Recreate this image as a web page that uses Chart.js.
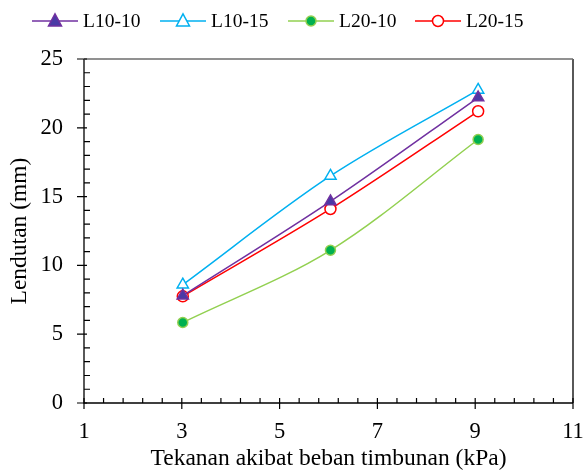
<!DOCTYPE html>
<html><head><meta charset="utf-8">
<script src="https://cdn.jsdelivr.net/npm/chart.js@4/dist/chart.umd.min.js"></script>
<style>html,body{margin:0;padding:0;background:#fff}#wrap{width:587px;height:473px}</style>
</head><body><div id="wrap"><canvas id="c" width="587" height="473"></canvas></div>
<script>
const xValues = [3.02, 6.04, 9.06];
const seriesNames = ['L10-10', 'L10-15', 'L20-10', 'L20-15'];
const L10_10 = [7.8, 14.65, 22.2];
const L10_15 = [8.6, 16.5, 22.75];
const L20_10 = [5.85, 11.1, 19.15];
const L20_15 = [7.75, 14.1, 21.2];
const xTicks = [1, 3, 5, 7, 9, 11];
const yTicks = [0, 5, 10, 15, 20, 25];
const xTitle = 'Tekanan akibat beban timbunan (kPa)';
const yTitle = 'Lendutan (mm)';

const FONT = '"Liberation Serif", "Times New Roman", serif';
const pts = arr => arr.map((v, i) => ({x: xValues[i], y: v}));

const styles = [
  {line: '#7030A0', fill: '#4a3aa6', border: '#7030A0', shape: 'triangle', r: 6.5},
  {line: '#00B0F0', fill: '#ffffff', border: '#00B0F0', shape: 'triangle', r: 6.5},
  {line: '#92D050', fill: '#00B050', border: '#92D050', shape: 'circle', r: 5},
  {line: '#FF0000', fill: '#ffffff', border: '#FF0000', shape: 'circle', r: 5.5}
];
const allData = [L10_10, L10_15, L20_10, L20_15];

const datasets = allData.map((d, i) => ({
  label: seriesNames[i],
  data: pts(d),
  borderColor: styles[i].line,
  borderWidth: 1.5,
  backgroundColor: styles[i].fill,
  pointStyle: styles[i].shape,
  pointRadius: styles[i].r,
  pointBackgroundColor: styles[i].fill,
  pointBorderColor: styles[i].border,
  pointBorderWidth: 1.5,
  tension: 0.33,
  fill: false
}));

const frame = {
  id: 'frame',
  afterDraw(chart) {
    const ctx = chart.ctx, a = chart.chartArea;
    const xs = chart.scales.x, ys = chart.scales.y;
    ctx.save();
    ctx.strokeStyle = '#000'; ctx.lineWidth = 1.3;
    ctx.beginPath();
    ctx.moveTo(a.left, a.top); ctx.lineTo(a.left, a.bottom); ctx.lineTo(a.right, a.bottom);
    ctx.moveTo(a.right, a.top); ctx.lineTo(a.right, a.bottom);
    ctx.stroke();
    ctx.strokeStyle = '#6d6d6d'; ctx.lineWidth = 1.6;
    ctx.beginPath(); ctx.moveTo(a.left, a.top); ctx.lineTo(a.right, a.top); ctx.stroke();
    ctx.strokeStyle = '#000'; ctx.lineWidth = 1.2;
    ctx.beginPath();
    xTicks.forEach(v => { const p = xs.getPixelForValue(v); ctx.moveTo(p, a.bottom - 5); ctx.lineTo(p, a.bottom + 6); });
    for (let k = 0; k <= 25; k++) {
      const v = 1 + k * 0.4;
      if (Math.abs((v - 1) / 2 - Math.round((v - 1) / 2)) < 1e-6) continue;
      const p = xs.getPixelForValue(v); ctx.moveTo(p, a.bottom); ctx.lineTo(p, a.bottom - 5);
    }
    yTicks.forEach(v => { const p = ys.getPixelForValue(v); ctx.moveTo(a.left - 7, p); ctx.lineTo(a.left + 3, p); });
    for (let v = 1; v < 25; v++) {
      if (v % 5 === 0) continue;
      const p = ys.getPixelForValue(v); ctx.moveTo(a.left, p); ctx.lineTo(a.left + 6, p);
    }
    ctx.stroke();
    ctx.restore();
  }
};

function drawMarker(ctx, st, x, y) {
  ctx.fillStyle = st.fill; ctx.strokeStyle = st.border; ctx.lineWidth = 1.5;
  ctx.beginPath();
  if (st.shape === 'circle') {
    ctx.arc(x, y, st.r, 0, Math.PI * 2);
  } else {
    const r = st.r;
    ctx.moveTo(x, y - r * 1.1);
    ctx.lineTo(x + r, y + r * 0.75);
    ctx.lineTo(x - r, y + r * 0.75);
    ctx.closePath();
  }
  ctx.fill(); ctx.stroke();
}

const legendPlugin = {
  id: 'customLegend',
  afterDraw(chart) {
    const ctx = chart.ctx;
    const starts = [32, 160, 288, 415];
    const y = 21;
    ctx.save();
    seriesNames.forEach((n, i) => {
      const st = styles[i], x0 = starts[i];
      ctx.strokeStyle = st.line; ctx.lineWidth = 1.5;
      ctx.beginPath(); ctx.moveTo(x0, y); ctx.lineTo(x0 + 46, y); ctx.stroke();
      drawMarker(ctx, st, x0 + 23, y);
      ctx.fillStyle = '#000'; ctx.font = '19.5px ' + FONT;
      ctx.textBaseline = 'middle'; ctx.textAlign = 'left';
      ctx.fillText(n, x0 + 51, y + 1);
    });
    ctx.restore();
  }
};

new Chart(document.getElementById('c'), {
  type: 'line',
  data: {datasets},
  options: {
    responsive: false,
    animation: false,
    devicePixelRatio: 1,
    layout: {padding: {top: 59, right: 14, left: 0, bottom: 0}},
    plugins: {legend: {display: false}, tooltip: {enabled: false}},
    scales: {
      x: {
        type: 'linear', min: 1, max: 11,
        afterBuildTicks: s => { s.ticks = xTicks.map(v => ({value: v})); },
        afterFit: s => { s.height = 70; s.paddingLeft = 0; s.paddingRight = 0; },
        grid: {display: false, drawTicks: false},
        border: {display: false},
        ticks: {color: '#000', font: {family: FONT, size: 22.5}, padding: 16, maxRotation: 0, autoSkip: false},
        title: {display: true, text: xTitle, color: '#000', font: {family: FONT, size: 23.5}, padding: {top: 4, bottom: 0}}
      },
      y: {
        type: 'linear', min: 0, max: 25,
        afterBuildTicks: s => { s.ticks = yTicks.map(v => ({value: v})); },
        afterFit: s => { s.width = 84; s.paddingTop = 0; s.paddingBottom = 0; },
        grid: {display: false, drawTicks: false},
        border: {display: false},
        ticks: {color: '#000', font: {family: FONT, size: 22.5}, padding: 21},
        title: {display: true, text: yTitle, color: '#000', font: {family: FONT, size: 23.5}, padding: {top: 6, bottom: 0}}
      }
    }
  },
  plugins: [frame, legendPlugin]
});
</script></body></html>
